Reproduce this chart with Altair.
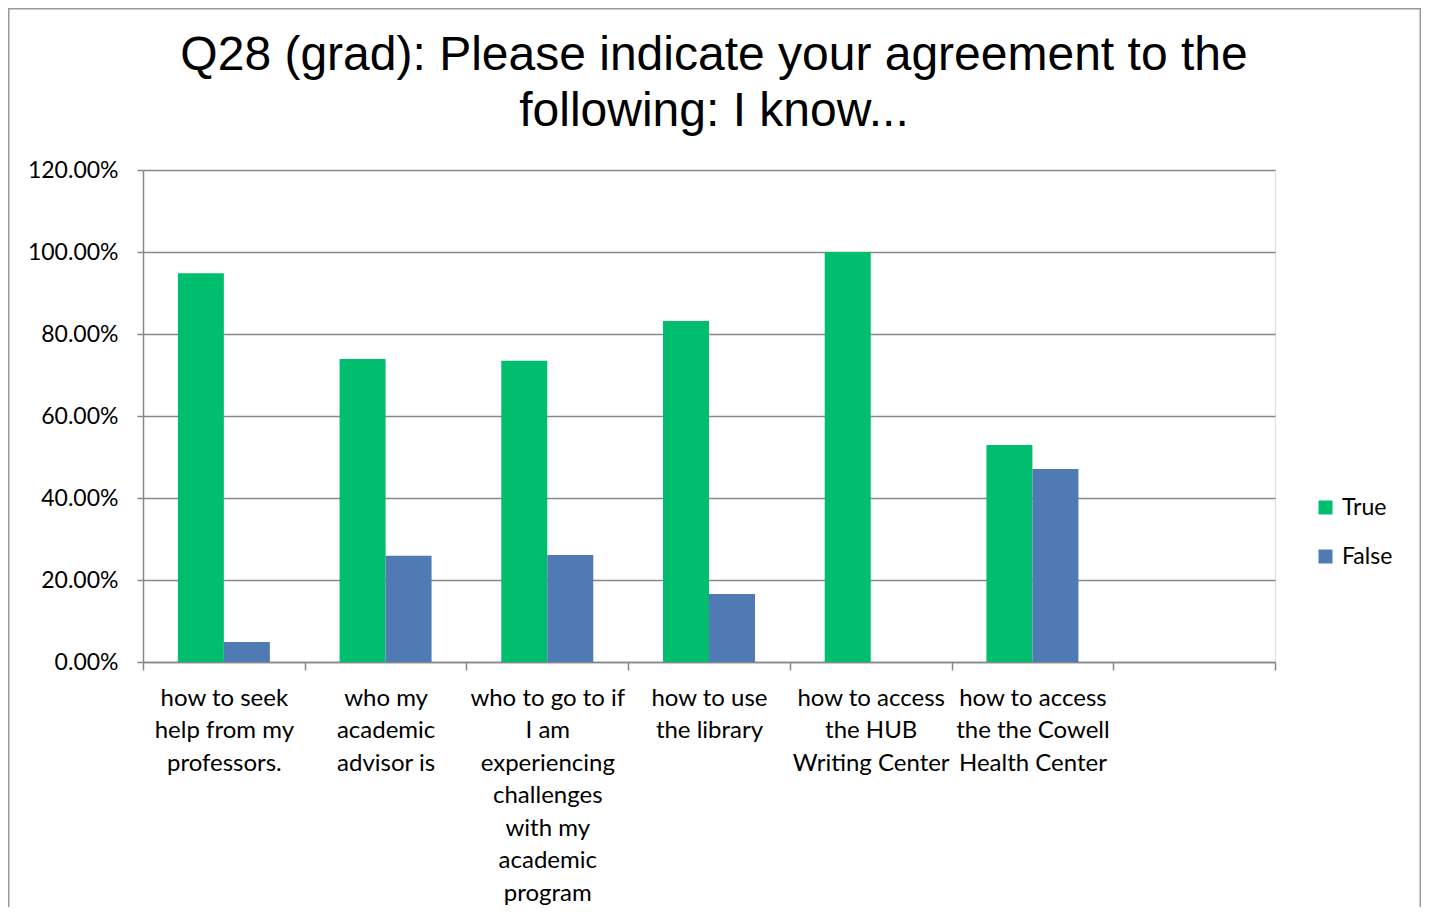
import altair as alt
import pandas as pd

CATEGORIES = [
    "how to seek\nhelp from my\nprofessors.",
    "who my\nacademic\nadvisor is",
    "who to go to if\nI am\nexperiencing\nchallenges\nwith my\nacademic\nprogram",
    "how to use\nthe library",
    "how to access\nthe HUB\nWriting Center",
    "how to access\nthe the Cowell\nHealth Center",
]
BLANK = "(blank)"
SERIES = ["True", "False"]
TRUE_VALUES = [0.948, 0.739, 0.735, 0.832, 1.000, 0.529]
FALSE_VALUES = [0.049, 0.259, 0.261, 0.166, 0.000, 0.471]
Y_TICKS = [0, 0.2, 0.4, 0.6, 0.8, 1.0, 1.2]
COLORS = ["#00BE6E", "#4F7AB3"]
TITLE = ["Q28 (grad): Please indicate your agreement to the", "following: I know..."]

rows = []
for c, t, f in zip(CATEGORIES, TRUE_VALUES, FALSE_VALUES):
    rows.append({"category": c, "series": "True", "value": t})
    rows.append({"category": c, "series": "False", "value": f})
df = pd.DataFrame(rows)

W, H = 1132, 492
PL, PT, PR, PB = 135, 162, 146, 245

label_expr = (
    f"isValid(datum.value) && datum.value != '{BLANK}' "
    "? split(datum.value, '\\n') : ''"
)

bars = alt.Chart(df).mark_bar(strokeWidth=0).encode(
    x=alt.X(
        "category:N",
        sort=CATEGORIES + [BLANK],
        scale=alt.Scale(domain=CATEGORIES + [BLANK], paddingInner=0, paddingOuter=0),
        axis=alt.Axis(
            title=None,
            labelAngle=0,
            labelExpr=label_expr,
            labelFont="Lato",
            labelFontSize=24,
            labelColor="#000000",
            labelLineHeight=32.5,
            labelBaseline="top",
            labelPadding=16,
            tickBand="extent",
            tickSize=8,
            tickColor="#888888",
            tickWidth=1.5,
            domainColor="#888888",
            domainWidth=1.5,
            grid=False,
            labelLimit=400,
        ),
    ),
    xOffset=alt.XOffset(
        "series:N",
        sort=SERIES,
        scale=alt.Scale(domain=SERIES, paddingInner=0, paddingOuter=0.758),
    ),
    y=alt.Y(
        "value:Q",
        scale=alt.Scale(domain=[0, 1.2], nice=False),
        axis=alt.Axis(
            title=None,
            values=Y_TICKS,
            format=".2%",
            labelFont="Lato",
            labelFontSize=23,
            labelColor="#000000",
            labelPadding=19,
            tickSize=6,
            tickColor="#888888",
            tickWidth=1.5,
            domainColor="#888888",
            domainWidth=1.5,
            grid=True,
            gridColor="#888888",
            gridWidth=1.5,
        ),
    ),
    color=alt.Color(
        "series:N",
        sort=SERIES,
        scale=alt.Scale(domain=SERIES, range=COLORS),
        legend=alt.Legend(
            title=None,
            orient="none",
            legendX=1171,
            legendY=326,
            symbolType="square",
            symbolSize=196,
            symbolStrokeWidth=0,
            labelFont="Lato",
            labelFontSize=23,
            labelColor="#000000",
            labelOffset=5,
            rowPadding=25,
            padding=0,
        ),
    ),
)

frame = alt.Chart(pd.DataFrame({"k": [0]})).mark_rect(
    fill=None, stroke="#9a9a9a", strokeWidth=1.5
).encode(
    x=alt.value(-PL + 0.75),
    x2=alt.value(W + PR - 0.75),
    y=alt.value(-PT + 0.75),
    y2=alt.value(H + PB + 20),
)

chart = alt.layer(frame, bars).properties(
    width=W,
    height=H,
    autosize=alt.AutoSizeParams(type="none"),
    padding={"left": PL, "top": PT, "right": PR, "bottom": PB},
    title=alt.Title(
        TITLE,
        font="Liberation Sans",
        fontSize=48,
        fontWeight="normal",
        color="#000000",
        lineHeight=56,
        anchor="middle",
        offset=0,
        dy=128,
        dx=5,
    ),
).configure_view(stroke=None).configure(background="#ffffff")

chart.save("out.html", embed_options={"renderer": "svg", "actions": False})
